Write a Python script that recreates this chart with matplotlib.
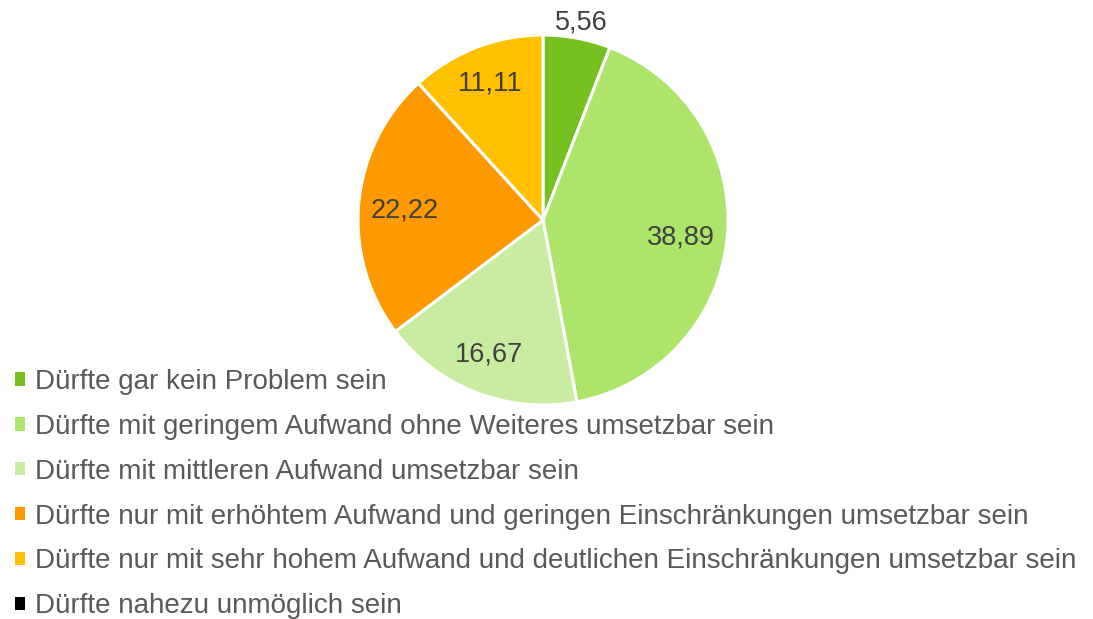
import matplotlib.pyplot as plt
from matplotlib.patches import Patch
import numpy as np

plt.rcParams['font.family'] = ['Liberation Sans', 'DejaVu Sans']

# Antworten und Anteile (%)
categories = [
    "Dürfte gar kein Problem sein",
    "Dürfte mit geringem Aufwand ohne Weiteres umsetzbar sein",
    "Dürfte mit mittleren Aufwand umsetzbar sein",
    "Dürfte nur mit erhöhtem Aufwand und geringen Einschränkungen umsetzbar sein",
    "Dürfte nur mit sehr hohem Aufwand und deutlichen Einschränkungen umsetzbar sein",
    "Dürfte nahezu unmöglich sein",
]
values = [5.56, 38.89, 16.67, 22.22, 11.11, 0.0]
colors = ["#76C121", "#ADE56A", "#C9EDA0", "#FF9900", "#FFC000", "#000000"]

# label placement (radius factor, angle shift in deg) per slice
label_r = [1.09, 0.75, 0.785, 0.75, 0.79, 0]
label_shift = [-0.5, -2, -0.6, 1.2, 0, 0]

fig = plt.figure(figsize=(10.93, 6.19), dpi=100)
ax = fig.add_axes([0.4968 - 0.3385 / 2, 0.6446 - 0.5977 / 2, 0.3385, 0.5977])

shown = [i for i, v in enumerate(values) if v > 0]
wedges, _ = ax.pie([values[i] for i in shown], colors=[colors[i] for i in shown],
                   startangle=90, counterclock=False,
                   wedgeprops=dict(edgecolor='white', linewidth=2.2))
ax.set_xlim(-1, 1)
ax.set_ylim(-1, 1)

for w, i in zip(wedges, shown):
    ang = np.deg2rad((w.theta1 + w.theta2) / 2 + label_shift[i])
    r = label_r[i]
    ax.text(r * np.cos(ang), r * np.sin(ang), f"{values[i]:.2f}".replace('.', ','),
            ha='center', va='center', fontsize=19.5, color='#404040')

handles = [Patch(facecolor=c, edgecolor='none') for c in colors]
fig.legend(handles, categories, loc='upper left', bbox_to_anchor=(0.014, 0.404),
           frameon=False, fontsize=20, labelcolor='#595959',
           handlelength=0.36, handleheight=0.36, handletextpad=0.36,
           labelspacing=0.68, borderaxespad=0, borderpad=0)

fig.savefig('out.png', dpi=100)
